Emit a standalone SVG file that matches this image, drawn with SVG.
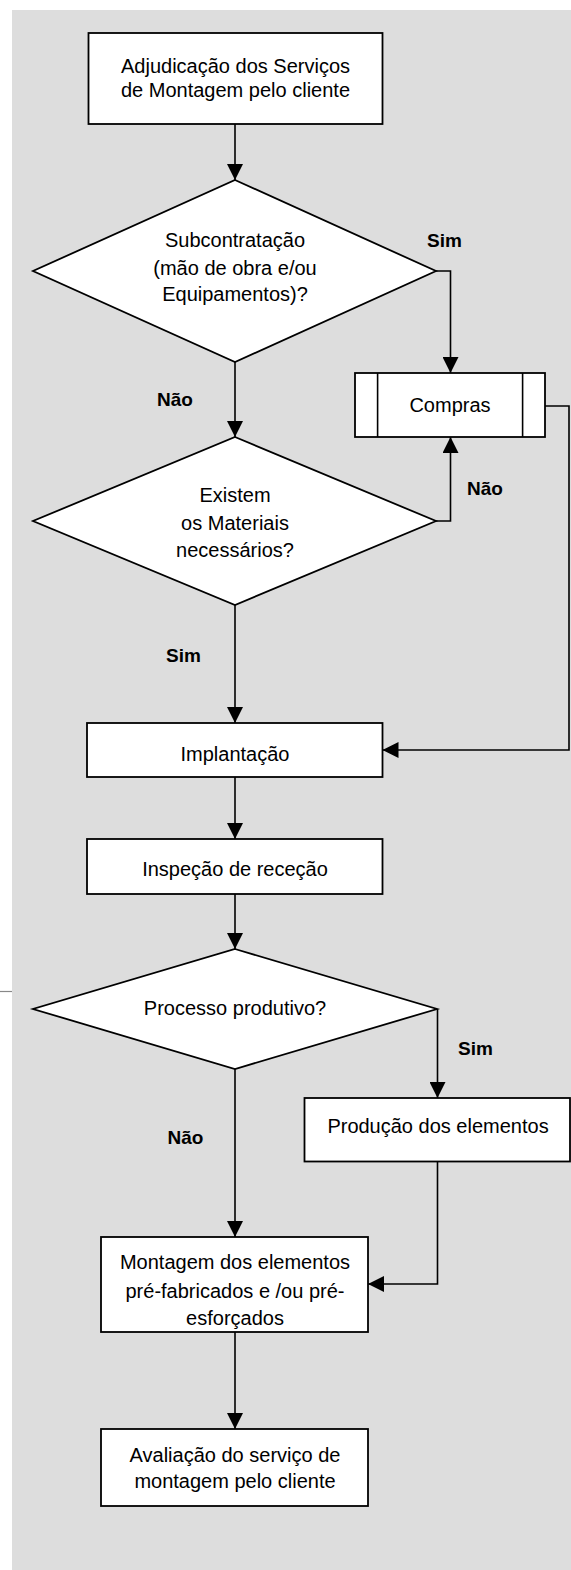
<svg xmlns="http://www.w3.org/2000/svg" width="571" height="1570" viewBox="0 0 571 1570">
<defs>
<style>
.box{fill:#fff;stroke:#000;stroke-width:1.8}
.ln{fill:none;stroke:#000;stroke-width:1.6}
.t{font-family:"Liberation Sans",Arial,sans-serif;font-size:20px;fill:#000;text-anchor:middle}
.lb{font-family:"Liberation Sans",Arial,sans-serif;font-size:19px;font-weight:bold;fill:#000}
</style>
<marker id="ah" markerUnits="userSpaceOnUse" markerWidth="16" markerHeight="16" refX="15" refY="7.5" orient="auto" viewBox="0 0 15 15">
<path d="M0,0 L15,7.5 L0,15 z" fill="#000"/>
</marker>
</defs>
<rect x="0" y="0" width="571" height="1570" fill="#fff"/>
<rect x="12" y="10" width="559" height="1560" fill="#dddddd"/>
<line x1="0" y1="991.5" x2="12" y2="991.5" stroke="#888" stroke-width="1.2"/>

<g id="connectors">
<path class="ln" d="M235,124 V180" marker-end="url(#ah)"/>
<path class="ln" d="M436,271 H450.5 V373" marker-end="url(#ah)"/>
<path class="ln" d="M235,362 V437" marker-end="url(#ah)"/>
<path class="ln" d="M436,521 H450.5 V437" marker-end="url(#ah)"/>
<path class="ln" d="M545,406 H569 V750 H382.5" marker-end="url(#ah)"/>
<path class="ln" d="M235,605 V723" marker-end="url(#ah)"/>
<path class="ln" d="M235,777 V839" marker-end="url(#ah)"/>
<path class="ln" d="M235,894 V949" marker-end="url(#ah)"/>
<path class="ln" d="M437.5,1009 V1098" marker-end="url(#ah)"/>
<path class="ln" d="M235,1069 V1237" marker-end="url(#ah)"/>
<path class="ln" d="M437.5,1162 V1284 H368" marker-end="url(#ah)"/>
<path class="ln" d="M235,1332 V1429" marker-end="url(#ah)"/>
</g>

<g id="labels">
<text class="lb" x="427" y="247">Sim</text>
<text class="lb" x="157" y="406">Não</text>
<text class="lb" x="467" y="495">Não</text>
<text class="lb" x="166" y="662">Sim</text>
<text class="lb" x="458" y="1055">Sim</text>
<text class="lb" x="167.5" y="1144">Não</text>
</g>

<g id="n1">
<rect class="box" x="88.5" y="33" width="294" height="91"/>
<text class="t" x="235.5" y="72.5">Adjudicação dos Serviços</text>
<text class="t" x="235.5" y="97">de Montagem pelo cliente</text>
</g>

<g id="d1">
<polygon class="box" points="235,180 436,271 235,362 33,271"/>
<text class="t" x="235" y="247">Subcontratação</text>
<text class="t" x="235" y="275">(mão de obra e/ou</text>
<text class="t" x="235" y="301">Equipamentos)?</text>
</g>

<g id="compras">
<rect class="box" x="355" y="373" width="190" height="64"/>
<line class="ln" x1="377.6" y1="373" x2="377.6" y2="437"/>
<line class="ln" x1="522.6" y1="373" x2="522.6" y2="437"/>
<text class="t" x="450" y="412">Compras</text>
</g>

<g id="d2">
<polygon class="box" points="235,437 436,521 235,605 33,521"/>
<text class="t" x="235" y="502">Existem</text>
<text class="t" x="235" y="530">os Materiais</text>
<text class="t" x="235" y="557">necessários?</text>
</g>

<g id="implantacao">
<rect class="box" x="87" y="723" width="295.5" height="54"/>
<text class="t" x="235" y="761">Implantação</text>
</g>

<g id="inspecao">
<rect class="box" x="87" y="839" width="295.5" height="55"/>
<text class="t" x="235" y="876">Inspeção de receção</text>
</g>

<g id="d3">
<polygon class="box" points="235,949 437,1009 235,1069 33,1009"/>
<text class="t" x="235" y="1015">Processo produtivo?</text>
</g>

<g id="producao">
<rect class="box" x="304.5" y="1098" width="265.5" height="63.5"/>
<text class="t" x="438" y="1133">Produção dos elementos</text>
</g>

<g id="montagem">
<rect class="box" x="101" y="1237" width="267" height="95"/>
<text class="t" x="235" y="1269">Montagem dos elementos</text>
<text class="t" x="235" y="1297.5">pré-fabricados e /ou pré-</text>
<text class="t" x="235" y="1325">esforçados</text>
</g>

<g id="avaliacao">
<rect class="box" x="101" y="1429" width="267" height="77"/>
<text class="t" x="235" y="1462">Avaliação do serviço de</text>
<text class="t" x="235" y="1488">montagem pelo cliente</text>
</g>
</svg>
